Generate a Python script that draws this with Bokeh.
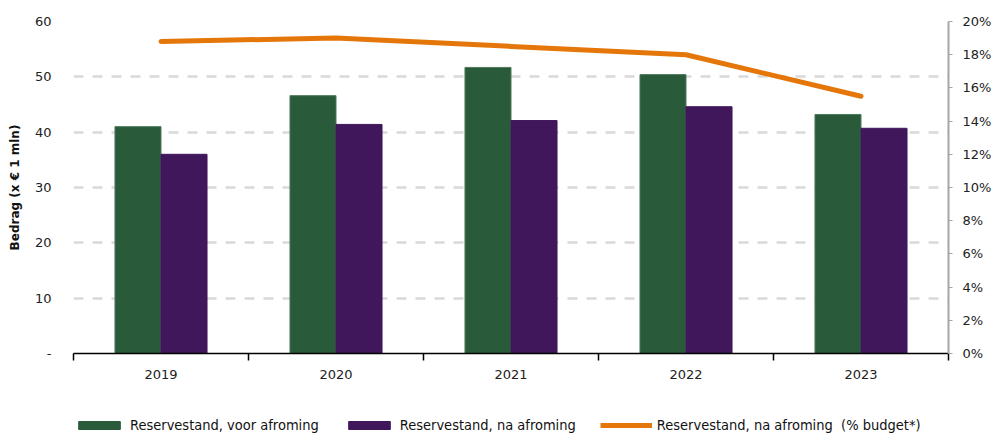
from bokeh.plotting import figure
from bokeh.layouts import column
from bokeh.models import (Range1d, LinearAxis, FixedTicker, Legend, LegendItem,
                          PrintfTickFormatter, ColumnDataSource)
from bokeh.embed import file_html
from bokeh.resources import INLINE
import numpy as np

years = ["2019", "2020", "2021", "2022", "2023"]
voor_afroming = [41.0, 46.6, 51.7, 50.4, 43.2]
na_afroming = [36.0, 41.4, 42.1, 44.6, 40.7]
pct_budget = [18.8, 19.0, 18.5, 18.0, 15.5]

left_ticks = [0, 10, 20, 30, 40, 50, 60]
right_ticks = [0, 2, 4, 6, 8, 10, 12, 14, 16, 18, 20]
legend_labels = ["Reservestand, voor afroming", "Reservestand, na afroming",
                 "Reservestand, na afroming  (% budget*)"]

GREEN = "#295B3A"
PURPLE = "#41175B"
ORANGE = "#E5760A"
FONT = "DejaVu Sans"

n = len(years)
centers = np.arange(n) + 0.5
bw = 0.263

src = ColumnDataSource(dict(
    xg=centers - bw / 2, xp=centers + bw / 2, xc=centers,
    voor=voor_afroming, na=na_afroming, pct=pct_budget,
))

p = figure(frame_width=875, frame_height=332, output_backend="svg",
           toolbar_location=None,
           x_range=Range1d(0, n), y_range=Range1d(0, 60),
           min_border_left=73, min_border_right=46, min_border_top=21,
           min_border_bottom=0)
p.outline_line_color = None
p.extra_y_ranges = {"pct": Range1d(0, 20)}

p.vbar(x="xg", top="voor", width=bw, source=src, fill_color=GREEN,
       line_color="#4F7A5C", line_width=1)
p.vbar(x="xp", top="na", width=bw, source=src, fill_color=PURPLE,
       line_color=PURPLE, line_width=1)
p.line(x="xc", y="pct", source=src, y_range_name="pct", line_color=ORANGE,
       line_width=5, line_cap="round", line_join="round")

# x axis
xa = p.xaxis[0]
xa.ticker = FixedTicker(ticks=list(centers), minor_ticks=list(range(n + 1)))
xa.major_label_overrides = {float(c): y for c, y in zip(centers, years)}
xa.major_tick_line_color = None
xa.minor_tick_line_color = "black"
xa.minor_tick_out = 7
xa.minor_tick_in = 0
xa.minor_tick_line_width = 1.5
xa.axis_line_color = "black"
xa.axis_line_width = 1.5
xa.major_label_text_font = FONT
xa.major_label_text_font_size = "13px"
xa.major_label_text_color = "#222222"
xa.major_label_standoff = 9

# left y axis
ya = p.yaxis[0]
ya.ticker = FixedTicker(ticks=left_ticks)
ya.major_label_overrides = {0: "-"}
ya.axis_line_color = None
ya.major_tick_line_color = None
ya.minor_tick_line_color = None
ya.major_label_text_font = FONT
ya.major_label_text_font_size = "13px"
ya.major_label_text_color = "#222222"
ya.major_label_standoff = 16
ya.axis_label = "Bedrag (x € 1 mln)"
ya.axis_label_text_font = FONT
ya.axis_label_text_font_style = "bold"
ya.axis_label_text_font_size = "12px"
ya.axis_label_text_color = "#111111"
ya.axis_label_standoff = 10

# right axis
ra = LinearAxis(y_range_name="pct", ticker=FixedTicker(ticks=right_ticks),
                formatter=PrintfTickFormatter(format="%d%%"))
ra.axis_line_color = "#A6A6A6"
ra.axis_line_width = 2
ra.major_tick_line_color = "#A6A6A6"
ra.major_tick_out = 4
ra.major_tick_in = 0
ra.minor_tick_line_color = None
ra.major_label_text_font = FONT
ra.major_label_text_font_size = "13px"
ra.major_label_text_color = "#222222"
ra.major_label_standoff = 10
p.add_layout(ra, "right")

p.xgrid.grid_line_color = None
p.ygrid.grid_line_color = "#D9D9D9"
p.ygrid.grid_line_width = 2.5
p.ygrid.grid_line_dash = "10 9"

# legend strip below the chart (separate figure; its renderers use the same
# data but lie outside this strip's visible range, so only the legend shows)
lg = figure(width=994, height=52, output_backend="svg", toolbar_location=None,
            x_range=Range1d(100, 101), y_range=Range1d(100, 101),
            x_axis_location=None, y_axis_location=None,
            min_border=0, min_border_left=0, min_border_right=0,
            min_border_top=0, min_border_bottom=0)
lg.outline_line_color = None
lg.grid.grid_line_color = None
g1 = lg.vbar(x="xg", top="voor", width=bw, source=src, fill_color=GREEN,
             line_color=GREEN)
g2 = lg.vbar(x="xp", top="na", width=bw, source=src, fill_color=PURPLE,
             line_color=PURPLE)
g3 = lg.line(x="xc", y="pct", source=src, line_color=ORANGE, line_width=5)

legend = Legend(items=[
    LegendItem(label=legend_labels[0], renderers=[g1]),
    LegendItem(label=legend_labels[1], renderers=[g2]),
    LegendItem(label=legend_labels[2], renderers=[g3]),
], orientation="horizontal", location=(0, 0))
legend.label_text_font = "DejaVu Sans Condensed"
legend.label_text_font_size = "14.5px"
legend.label_text_color = "#111111"
legend.glyph_width = 52
legend.glyph_height = 10
legend.spacing = 24
legend.label_standoff = 5
legend.border_line_color = None
legend.background_fill_alpha = 0
legend.padding = 0
legend.margin = 0
lg.add_layout(legend, "center")

layout = column(p, lg, spacing=0)
open("out.html", "w").write(file_html(layout, INLINE))
